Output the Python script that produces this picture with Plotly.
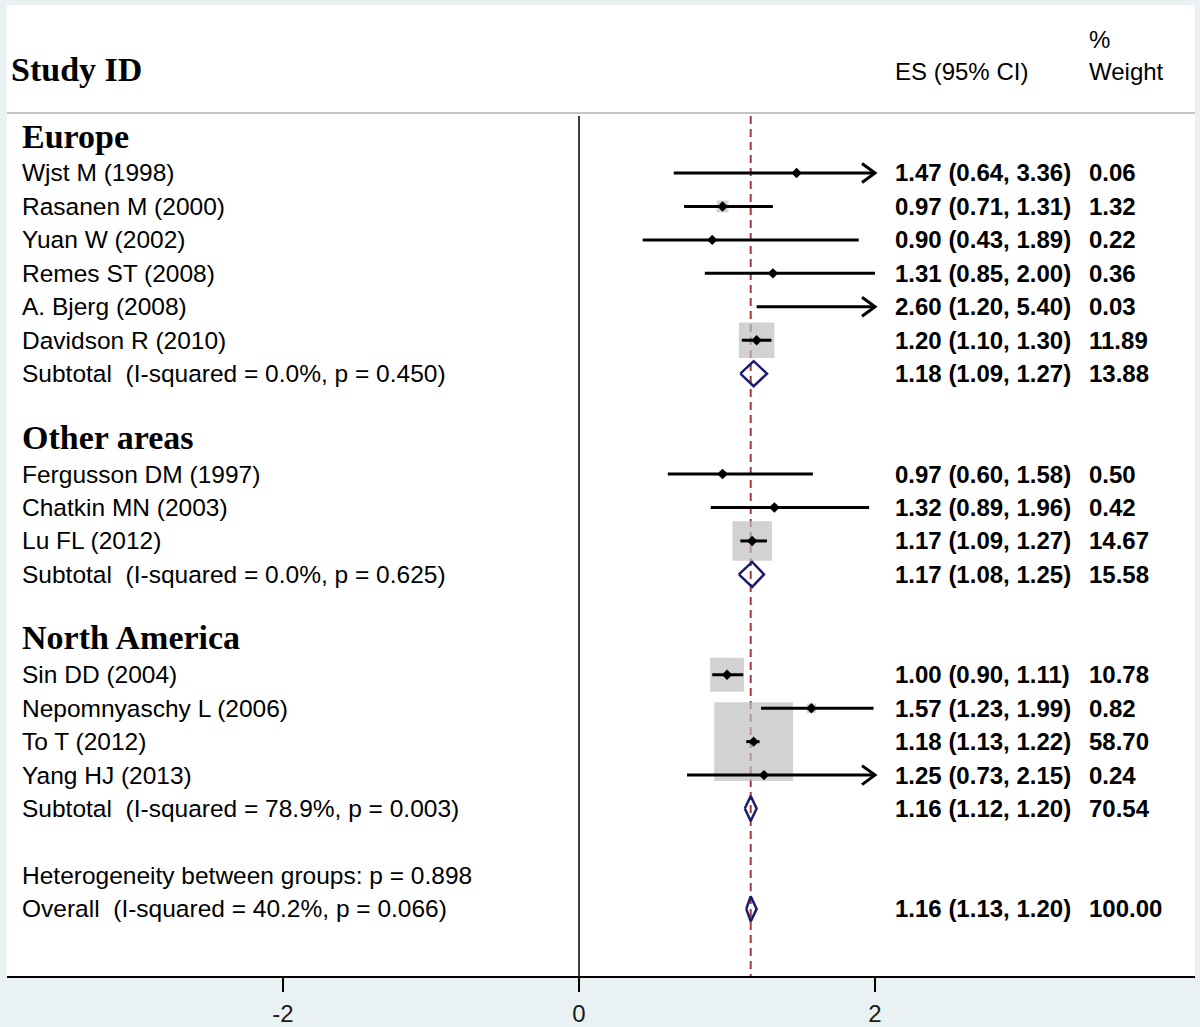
import plotly.graph_objects as go
import numpy as np

# ---------------- data ----------------
group_names = ["Europe", "Other areas", "North America"]
group_members = [
    ["Wjst M (1998)", "Rasanen M (2000)", "Yuan W (2002)", "Remes ST (2008)",
     "A. Bjerg (2008)", "Davidson R (2010)"],
    ["Fergusson DM (1997)", "Chatkin MN (2003)", "Lu FL (2012)"],
    ["Sin DD (2004)", "Nepomnyaschy L (2006)", "To T (2012)", "Yang HJ (2013)"],
]
es = [1.47, 0.97, 0.90, 1.31, 2.60, 1.20, 0.97, 1.32, 1.17, 1.00, 1.57, 1.18, 1.25]
lo = [0.64, 0.71, 0.43, 0.85, 1.20, 1.10, 0.60, 0.89, 1.09, 0.90, 1.23, 1.13, 0.73]
hi = [3.36, 1.31, 1.89, 2.00, 5.40, 1.30, 1.58, 1.96, 1.27, 1.11, 1.99, 1.22, 2.15]
wt = [0.06, 1.32, 0.22, 0.36, 0.03, 11.89, 0.50, 0.42, 14.67, 10.78, 0.82, 58.70, 0.24]

sub_labels = ["Subtotal\u00a0 (I-squared = 0.0%, p = 0.450)",
              "Subtotal\u00a0 (I-squared = 0.0%, p = 0.625)",
              "Subtotal\u00a0 (I-squared = 78.9%, p = 0.003)"]
sub_es = [1.18, 1.17, 1.16]
sub_lo = [1.09, 1.08, 1.12]
sub_hi = [1.27, 1.25, 1.20]
sub_wt = [13.88, 15.58, 70.54]

het_label = "Heterogeneity between groups: p = 0.898"
overall_label = "Overall\u00a0 (I-squared = 40.2%, p = 0.066)"
overall_es, overall_lo, overall_hi, overall_wt = 1.16, 1.13, 1.20, 100.00

tick_vals = [-2, 0, 2]
tick_text = ["-2", "0", "2"]

# ---------------- layout helpers ----------------
XMIN, XMAX = -3.865, 4.162
Y_TOP, Y_BOT = -4.022, 25.006
CLIP_LO, CLIP_HI = min(tick_vals), max(tick_vals)
PX_X = 148.0      # px per x unit
PX_Y = 33.45      # px per row
X_LABEL = -3.778
X_ES = 2.122
X_WT = 3.432
SANS = "Liberation Sans, Arial, sans-serif"
SERIF = "Liberation Serif, Times New Roman, serif"
LBL = 24.5

# assign rows
study_rows, header_rows, sub_rows = [], [], []
r = 0
for g, members in enumerate(group_members):
    header_rows.append(r)
    r += 1
    for _ in members:
        study_rows.append(r)
        r += 1
    sub_rows.append(r)
    r += 2
het_row = r
overall_row = r + 1

labels = [m for members in group_members for m in members]

fig = go.Figure()

# grey weight boxes
fig.add_trace(go.Scatter(
    x=es, y=study_rows, mode="markers",
    marker=dict(symbol="square", size=[10.3 * np.sqrt(w) for w in wt],
                color="#bfbfbf", line=dict(width=0)),
    hoverinfo="skip", showlegend=False))

# CI lines (clipped)
cx, cy = [], []
ax, ay = [], []
dx = 13 / PX_X
dy = 9.5 / PX_Y
for e, l, h, row in zip(es, lo, hi, study_rows):
    cx += [max(l, CLIP_LO), min(h, CLIP_HI), None]
    cy += [row, row, None]
    if h > CLIP_HI:
        ax += [CLIP_HI - dx, CLIP_HI, CLIP_HI - dx, None]
        ay += [row - dy, row, row + dy, None]
fig.add_trace(go.Scatter(x=cx, y=cy, mode="lines",
                         line=dict(color="black", width=3),
                         hoverinfo="skip", showlegend=False))
fig.add_trace(go.Scatter(x=ax, y=ay, mode="lines",
                         line=dict(color="black", width=3),
                         hoverinfo="skip", showlegend=False))

# point estimates (only those inside the drawn range)
px_ = [e for e in es if CLIP_LO <= e <= CLIP_HI]
py_ = [row for e, row in zip(es, study_rows) if CLIP_LO <= e <= CLIP_HI]
fig.add_trace(go.Scatter(x=px_, y=py_, mode="markers",
                         marker=dict(symbol="diamond", size=8, color="black"),
                         hoverinfo="skip", showlegend=False))

# pooled diamonds
hh = 12.5 / PX_Y
dxs, dys = [], []
for e, l, h, row in zip(sub_es + [overall_es], sub_lo + [overall_lo],
                        sub_hi + [overall_hi], sub_rows + [overall_row]):
    dxs += [l, e, h, e, l, None]
    dys += [row, row - hh, row, row + hh, row, None]
fig.add_trace(go.Scatter(x=dxs, y=dys, mode="lines",
                         line=dict(color="#1b1b70", width=2.5),
                         hoverinfo="skip", showlegend=False))

# shapes: separator, zero line, overall dashed line
line_top = -0.7
fig.add_shape(type="line", xref="paper", x0=0, x1=1, yref="y",
              y0=-0.79, y1=-0.79, line=dict(color="#c4c4c4", width=2), layer="below")
fig.add_shape(type="line", x0=0, x1=0, y0=line_top, y1=Y_BOT,
              line=dict(color="black", width=1.5), layer="below")
fig.add_shape(type="line", x0=overall_es, x1=overall_es, y0=line_top, y1=Y_BOT,
              line=dict(color="#a8383c", width=2, dash="8px,5px"), layer="below")

ann = []
def txt(x, y, s, size=24, family=SANS, bold=False):
    ann.append(dict(x=x, y=y, xref="x", yref="y", text=f"<b>{s}</b>" if bold else s,
                    showarrow=False, xanchor="left", yanchor="middle",
                    font=dict(size=size, family=family, color="black")))

# headers
txt(-3.85, -2.08, "Study ID", size=34, family=SERIF, bold=True)
txt(X_ES, -2.02, "ES (95% CI)")
txt(X_WT, -2.02, "Weight")
txt(X_WT, -2.98, "%")

for g, hr in zip(group_names, header_rows):
    txt(X_LABEL, hr - 0.1, g, size=34, family=SERIF, bold=True)

for lab, e, l, h, w, row in zip(labels, es, lo, hi, wt, study_rows):
    txt(X_LABEL, row, lab, size=LBL)
    txt(X_ES, row, f"{e:.2f} ({l:.2f}, {h:.2f})", bold=True)
    txt(X_WT, row, f"{w:.2f}", bold=True)

for lab, e, l, h, w, row in zip(sub_labels, sub_es, sub_lo, sub_hi, sub_wt, sub_rows):
    txt(X_LABEL, row, lab, size=LBL)
    txt(X_ES, row, f"{e:.2f} ({l:.2f}, {h:.2f})", bold=True)
    txt(X_WT, row, f"{w:.2f}", bold=True)

txt(X_LABEL, het_row, het_label, size=LBL)
txt(X_LABEL, overall_row, overall_label, size=LBL)
txt(X_ES, overall_row, f"{overall_es:.2f} ({overall_lo:.2f}, {overall_hi:.2f})", bold=True)
txt(X_WT, overall_row, f"{overall_wt:.2f}", bold=True)

fig.update_layout(
    width=1200, height=1027,
    margin=dict(l=7, r=5, t=5, b=51, pad=0, autoexpand=False),
    paper_bgcolor="#e9f1f2", plot_bgcolor="white",
    annotations=ann, showlegend=False,
    xaxis=dict(range=[XMIN, XMAX], tickvals=tick_vals, ticktext=tick_text,
               showgrid=False, zeroline=False, showline=True, linecolor="black",
               linewidth=2, ticks="outside", ticklen=14, tickwidth=2,
               tickcolor="black", tickfont=dict(size=24, family=SANS, color="#1a1a1a"),
               ticklabelstandoff=1, automargin=False, fixedrange=True),
    yaxis=dict(range=[Y_BOT, Y_TOP], visible=False, automargin=False, fixedrange=True),
)

fig.write_html("out.html", config={"displayModeBar": False},
               post_script="document.body.style.margin='0px';document.body.style.background='#e9f1f2';")
